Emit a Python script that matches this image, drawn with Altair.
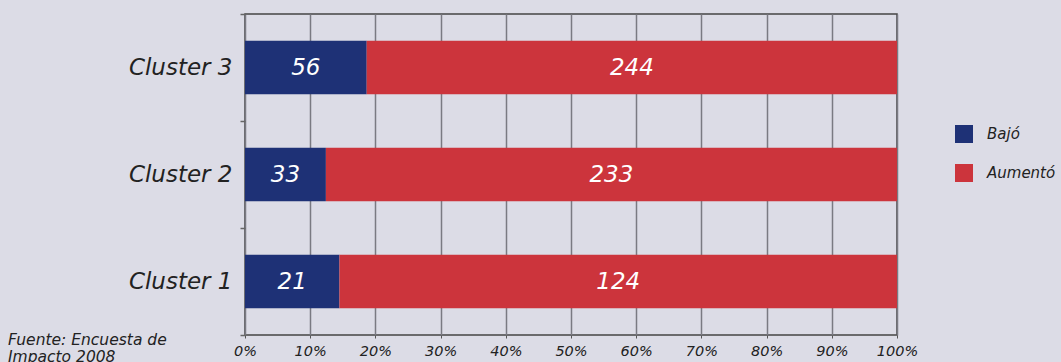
import altair as alt
import pandas as pd

clusters = ["Cluster 3", "Cluster 2", "Cluster 1"]
series = ["Bajó", "Aumentó"]
bajo = [56, 33, 21]
aumento = [244, 233, 124]
colors = ["#1e3176", "#cc343c"]
footer = ["Fuente: Encuesta de", "Impacto 2008"]

rows = []
for c, b, a in zip(clusters, bajo, aumento):
    rows.append({"cluster": c, "serie": series[0], "value": b, "ord": 0})
    rows.append({"cluster": c, "serie": series[1], "value": a, "ord": 1})
df = pd.DataFrame(rows)

FONT = "DejaVu Sans"

base = alt.Chart(df).transform_stack(
    stack="value", groupby=["cluster"], as_=["x0", "x1"],
    offset="normalize", sort=[alt.SortField("ord", order="ascending")]
).transform_calculate(mid="(datum.x0 + datum.x1) / 2")

yenc = alt.Y("cluster:N", sort=clusters, title=None,
             scale=alt.Scale(paddingInner=0, paddingOuter=0),
             axis=alt.Axis(labelFont=FONT, labelFontSize=23, labelFontStyle="italic",
                           labelColor="#222222", labelPadding=8, tickBand="extent",
                           tickSize=5, tickColor="#666666", tickWidth=1.5,
                           domain=False, grid=False))

bars = base.mark_bar(height={"band": 0.5}).encode(
    x=alt.X("x0:Q", title=None,
            scale=alt.Scale(domain=[0, 1], nice=False),
            axis=alt.Axis(format=".0%", values=[i / 10 for i in range(11)],
                          labelFont=FONT, labelFontSize=14.5, labelFontStyle="italic",
                          labelColor="#222222", labelPadding=6,
                          grid=True, gridColor="#7a7a82", gridWidth=1.5,
                          tickSize=3, tickColor="#555555", domain=False,
                          labelFlush=False)),
    x2="x1:Q",
    y=yenc,
    color=alt.Color("serie:N", scale=alt.Scale(domain=series, range=colors),
                    legend=alt.Legend(title=None, orient="none", legendX=710, legendY=111,
                                      symbolType="square", symbolSize=324,
                                      symbolStrokeWidth=0, symbolOpacity=1,
                                      labelFont=FONT, labelFontSize=15,
                                      labelFontStyle="italic", labelColor="#222222",
                                      labelOffset=14, rowPadding=21)),
)

labels = base.mark_text(color="white", font=FONT, fontSize=23, fontStyle="italic",
                        baseline="middle", align="center").encode(
    x=alt.X("mid:Q"),
    y=alt.Y("cluster:N", sort=clusters),
    text=alt.Text("value:Q"),
)

fdf = pd.DataFrame({"t": footer, "yy": [331, 348]})
foot = alt.Chart(fdf).mark_text(font=FONT, fontSize=15.5, fontStyle="italic",
                                color="#222222", align="left", baseline="alphabetic").encode(
    x=alt.value(-237),
    y=alt.Y("yy:Q", scale=None),
    text="t:N",
)

chart = alt.layer(bars, labels, foot).properties(
    width=652, height=321,
    autosize=alt.AutoSizeParams(type="none"),
    padding={"left": 245, "top": 14, "right": 164, "bottom": 27},
    background="#dcdce6",
).configure_view(stroke="#444444", strokeWidth=1.5)

chart.save("out.html", embed_options={"renderer": "svg", "actions": False})
